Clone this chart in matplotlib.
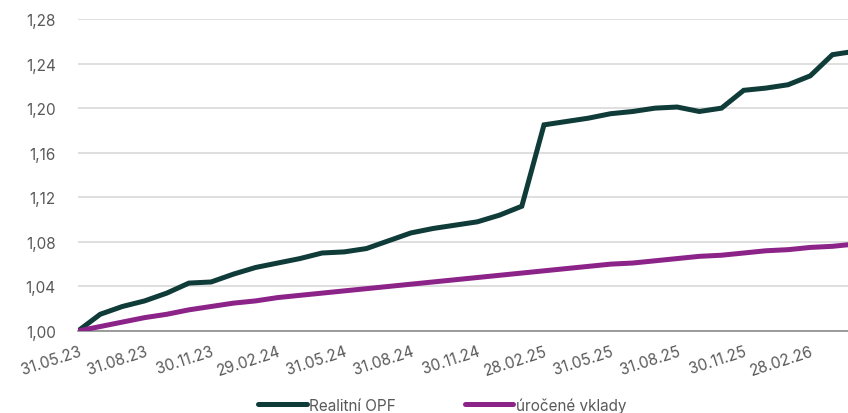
import numpy as np
import matplotlib
matplotlib.use("Agg")
import matplotlib.pyplot as plt

# monthly month-end values, 31.05.23 .. 30.04.26
realitni_opf = [1.000, 1.015, 1.022, 1.027, 1.034, 1.043, 1.044, 1.051, 1.057, 1.061,
                1.065, 1.070, 1.071, 1.074, 1.081, 1.088, 1.092, 1.095, 1.098, 1.104,
                1.112, 1.185, 1.188, 1.191, 1.195, 1.197, 1.200, 1.201, 1.197, 1.200,
                1.216, 1.218, 1.221, 1.229, 1.248, 1.251]
uroc_vklady = [1.000, 1.004, 1.008, 1.012, 1.015, 1.019, 1.022, 1.025, 1.027, 1.030,
               1.032, 1.034, 1.036, 1.038, 1.040, 1.042, 1.044, 1.046, 1.048, 1.050,
               1.052, 1.054, 1.056, 1.058, 1.060, 1.061, 1.063, 1.065, 1.067, 1.068,
               1.070, 1.072, 1.073, 1.075, 1.076, 1.078]
tick_labels = ["31.05.23", "31.08.23", "30.11.23", "29.02.24", "31.05.24", "31.08.24",
               "30.11.24", "28.02.25", "31.05.25", "31.08.25", "30.11.25", "28.02.26"]
y_ticks = [1.00, 1.04, 1.08, 1.12, 1.16, 1.20, 1.24, 1.28]

green = "#0f3b38"
purple = "#8b2388"
grey_txt = "#595959"

plt.rcParams["font.family"] = ["Inter", "DejaVu Sans"]
fontSize = 11

fig = plt.figure(figsize=(8.48, 4.14), dpi=100)
ax = fig.add_axes([78 / 848, 1 - 332 / 414, 1 - 78 / 848, (332 - 20) / 414])

x = np.arange(len(realitni_opf))
ax.plot(x, realitni_opf, color=green, linewidth=3.6, label="Realitní OPF", solid_joinstyle="miter", zorder=3)
ax.plot(x, uroc_vklady, color=purple, linewidth=3.6, label="úročené vklady", zorder=3)

ax.set_xlim(0, 34.7)
ax.set_ylim(1.00, 1.28)
ax.set_yticks(y_ticks)
ax.set_yticklabels([f"{v:.2f}".replace(".", ",") for v in y_ticks], fontsize=fontSize, color=grey_txt)
ax.set_xticks(np.arange(0, 3 * len(tick_labels), 3))
ax.set_xticklabels(tick_labels, rotation=18, ha="right", rotation_mode="anchor",
                   fontsize=fontSize, color=grey_txt)
ax.tick_params(axis="both", length=0)
ax.tick_params(axis="y", pad=16)
ax.tick_params(axis="x", pad=9)

ax.grid(axis="y", color="#d9d9d9", linewidth=1.2)
ax.set_axisbelow(True)
for s in ["top", "right", "left"]:
    ax.spines[s].set_visible(False)
ax.spines["bottom"].set_color("#8c8c8c")
ax.spines["bottom"].set_linewidth(1.2)
ax.spines["bottom"].set_zorder(2)

leg = fig.legend(loc="center", bbox_to_anchor=(442 / 848, 1 - 406 / 414), ncol=2, frameon=False,
                 fontsize=fontSize, handlelength=3.2, handletextpad=0.15, columnspacing=4.5)
for t in leg.get_texts():
    t.set_color(grey_txt)
for h in leg.get_lines():
    h.set_solid_capstyle("round")

fig.savefig("out.png", dpi=100)
